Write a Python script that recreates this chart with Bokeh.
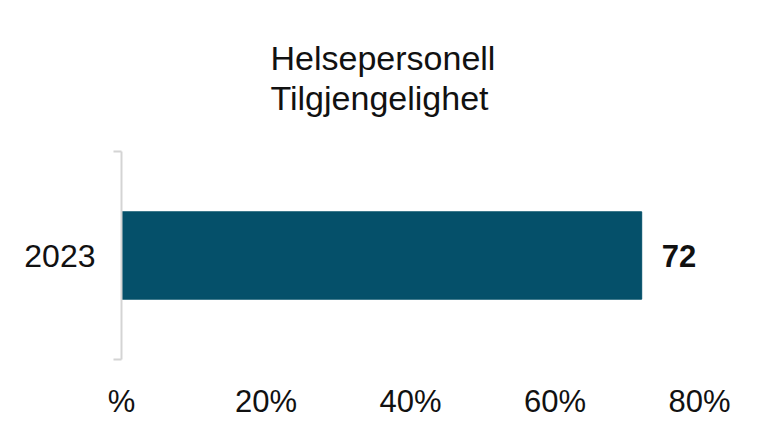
from bokeh.plotting import figure
from bokeh.models import Range1d, FixedTicker, ColumnDataSource
from bokeh.core.properties import value
from bokeh.embed import file_html
from bokeh.resources import INLINE

# ---- data ----
title_lines = ["Helsepersonell", "Tilgjengelighet"]
years = ["2023"]
values = [72]
value_labels = ["72"]
x_tick_values = [0, 20, 40, 60, 80]
x_tick_labels = ["%", "20%", "40%", "60%", "80%"]

FONT = "Liberation Sans"
BAR_COLOR = "#05506a"
AXIS_GRAY = "#d4d4d4"

# categories placed at half-integer positions on a numeric axis so the
# axis can show bracket ticks at its ends
y_pos = [i + 0.5 for i in range(len(years))]

p = figure(
    width=752, height=422,
    x_range=Range1d(0, 80), y_range=Range1d(0, len(years)),
    output_backend="svg", toolbar_location=None,
    min_border_left=121, min_border_right=53,
    min_border_top=151, min_border_bottom=63,
)
p.background_fill_color = "white"
p.border_fill_color = "white"
p.outline_line_color = None
p.grid.visible = False

p.title.text = "\n".join(title_lines)
p.title.align = "left"
p.title.vertical_align = "top"
p.title.offset = 149
p.title.standoff = 65
p.title.text_font = FONT
p.title.text_font_size = "34px"
p.title.text_font_style = "normal"
p.title.text_color = "#111111"
p.title.text_line_height = 1.05

src = ColumnDataSource(dict(y=y_pos, v=values, lab=value_labels, cat=years))
p.hbar(y="y", right="v", left=0, height=0.42, source=src,
       fill_color=BAR_COLOR, line_color=BAR_COLOR)
p.text(x="v", y="y", text="lab", source=src, x_offset=20,
       text_align="left", text_baseline="middle",
       text_font=value(FONT), text_font_size="31px",
       text_font_style="bold", text_color="#111111")

# x axis
xa = p.xaxis[0]
xa.ticker = FixedTicker(ticks=x_tick_values)
xa.major_label_overrides = {t: l for t, l in zip(x_tick_values, x_tick_labels)}
xa.axis_line_color = None
xa.major_tick_line_color = None
xa.minor_tick_line_color = None
xa.major_label_text_font = FONT
xa.major_label_text_font_size = "31px"
xa.major_label_text_color = "#111111"
xa.major_label_standoff = 18

# y axis (category labels with bracket ends)
ya = p.yaxis[0]
ya.ticker = FixedTicker(ticks=y_pos,
                        minor_ticks=[0] + [i + 1 for i in range(len(years))])
ya.major_label_overrides = {y: c for y, c in zip(y_pos, years)}
ya.axis_line_color = AXIS_GRAY
ya.axis_line_width = 2
ya.major_tick_line_color = None
ya.major_tick_out = 0
ya.major_tick_in = 0
ya.minor_tick_line_color = AXIS_GRAY
ya.minor_tick_line_width = 2
ya.minor_tick_out = 8
ya.minor_tick_in = 0
ya.major_label_text_font = FONT
ya.major_label_text_font_size = "32px"
ya.major_label_text_color = "#111111"
ya.major_label_standoff = 18

open("out.html", "w").write(file_html(p, INLINE))
